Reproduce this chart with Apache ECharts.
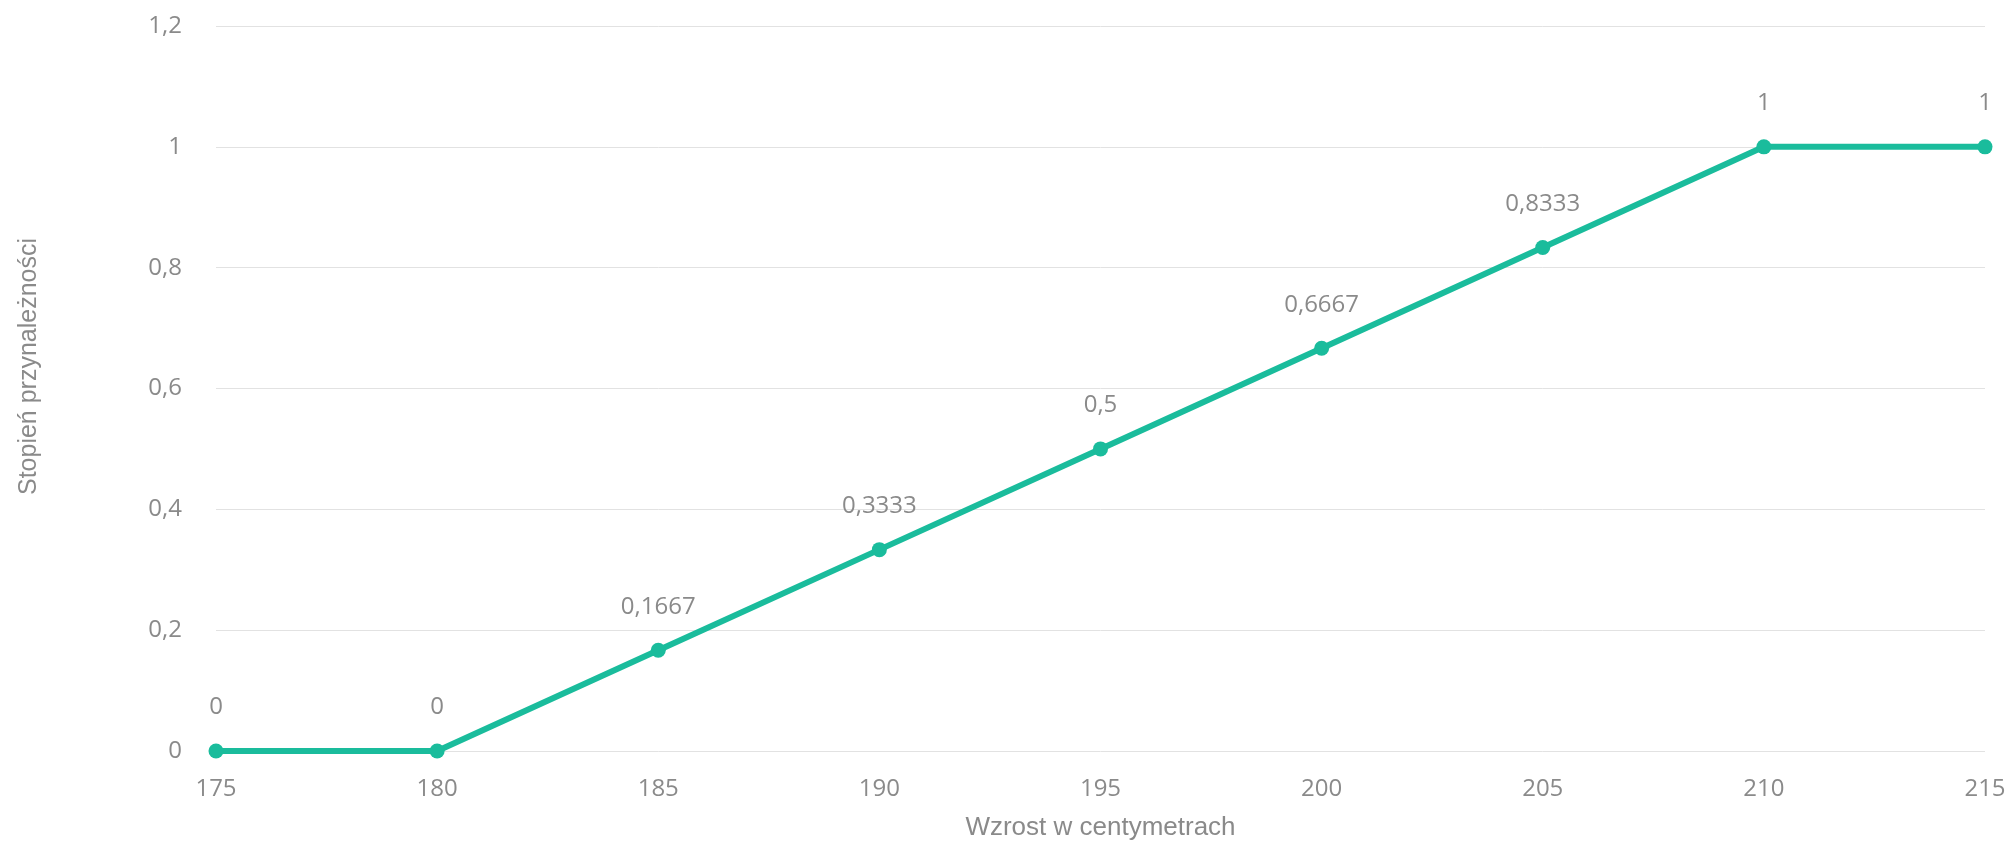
<!DOCTYPE html>
<html>
<head>
<meta charset="utf-8">
<script src="https://cdn.jsdelivr.net/npm/echarts@6/dist/echarts.min.js"></script>
<style>html,body{margin:0;padding:0;background:#fff;}#c{width:2016px;height:841px;}</style>
</head>
<body>
<div id="c"></div>
<script>
const heights = [175, 180, 185, 190, 195, 200, 205, 210, 215];
const membership = [0, 0, 0.1667, 0.3333, 0.5, 0.6667, 0.8333, 1, 1];
const xTitle = 'Wzrost w centymetrach';
const yTitle = 'Stopień przynależności';

const fmt = v => String(v).replace('.', ',');
const chart = echarts.init(document.getElementById('c'));
chart.setOption({
  animation: false,
  grid: { left: 216, right: 31, top: 26, bottom: 90, outerBoundsMode: 'none', containLabel: false },
  xAxis: {
    type: 'value', min: 175, max: 215, interval: 5,
    name: xTitle, nameLocation: 'middle', nameGap: 64,
    nameTextStyle: { fontFamily: 'Liberation Sans', fontSize: 26, color: '#8a8a8a' },
    axisLine: { show: false }, axisTick: { show: false }, splitLine: { show: false },
    axisLabel: { fontFamily: 'Open Sans', fontSize: 24, color: '#8a8a8a', margin: 26 }
  },
  yAxis: {
    type: 'value', min: 0, max: 1.2, interval: 0.2,
    name: yTitle, nameLocation: 'middle', nameGap: 174,
    nameTextStyle: { fontFamily: 'Liberation Sans', fontSize: 25, color: '#8a8a8a', padding: [0, 0, 0, 44] },
    axisLine: { show: false }, axisTick: { show: false },
    splitLine: { lineStyle: { color: '#e2e2e2', width: 1 } },
    axisLabel: { fontFamily: 'Open Sans', fontSize: 24, color: '#8a8a8a', margin: 34,
      formatter: v => fmt(Math.round(v * 10) / 10) }
  },
  series: [{
    type: 'line',
    data: heights.map((h, i) => [h, membership[i]]),
    symbol: 'circle', symbolSize: 15,
    lineStyle: { color: '#1abc9c', width: 6 },
    itemStyle: { color: '#1abc9c' },
    label: { show: true, position: 'top', distance: 24, fontFamily: 'Open Sans', fontSize: 24, color: '#8a8a8a',
      formatter: p => fmt(p.value[1]) }
  }]
});
</script>
</body>
</html>
